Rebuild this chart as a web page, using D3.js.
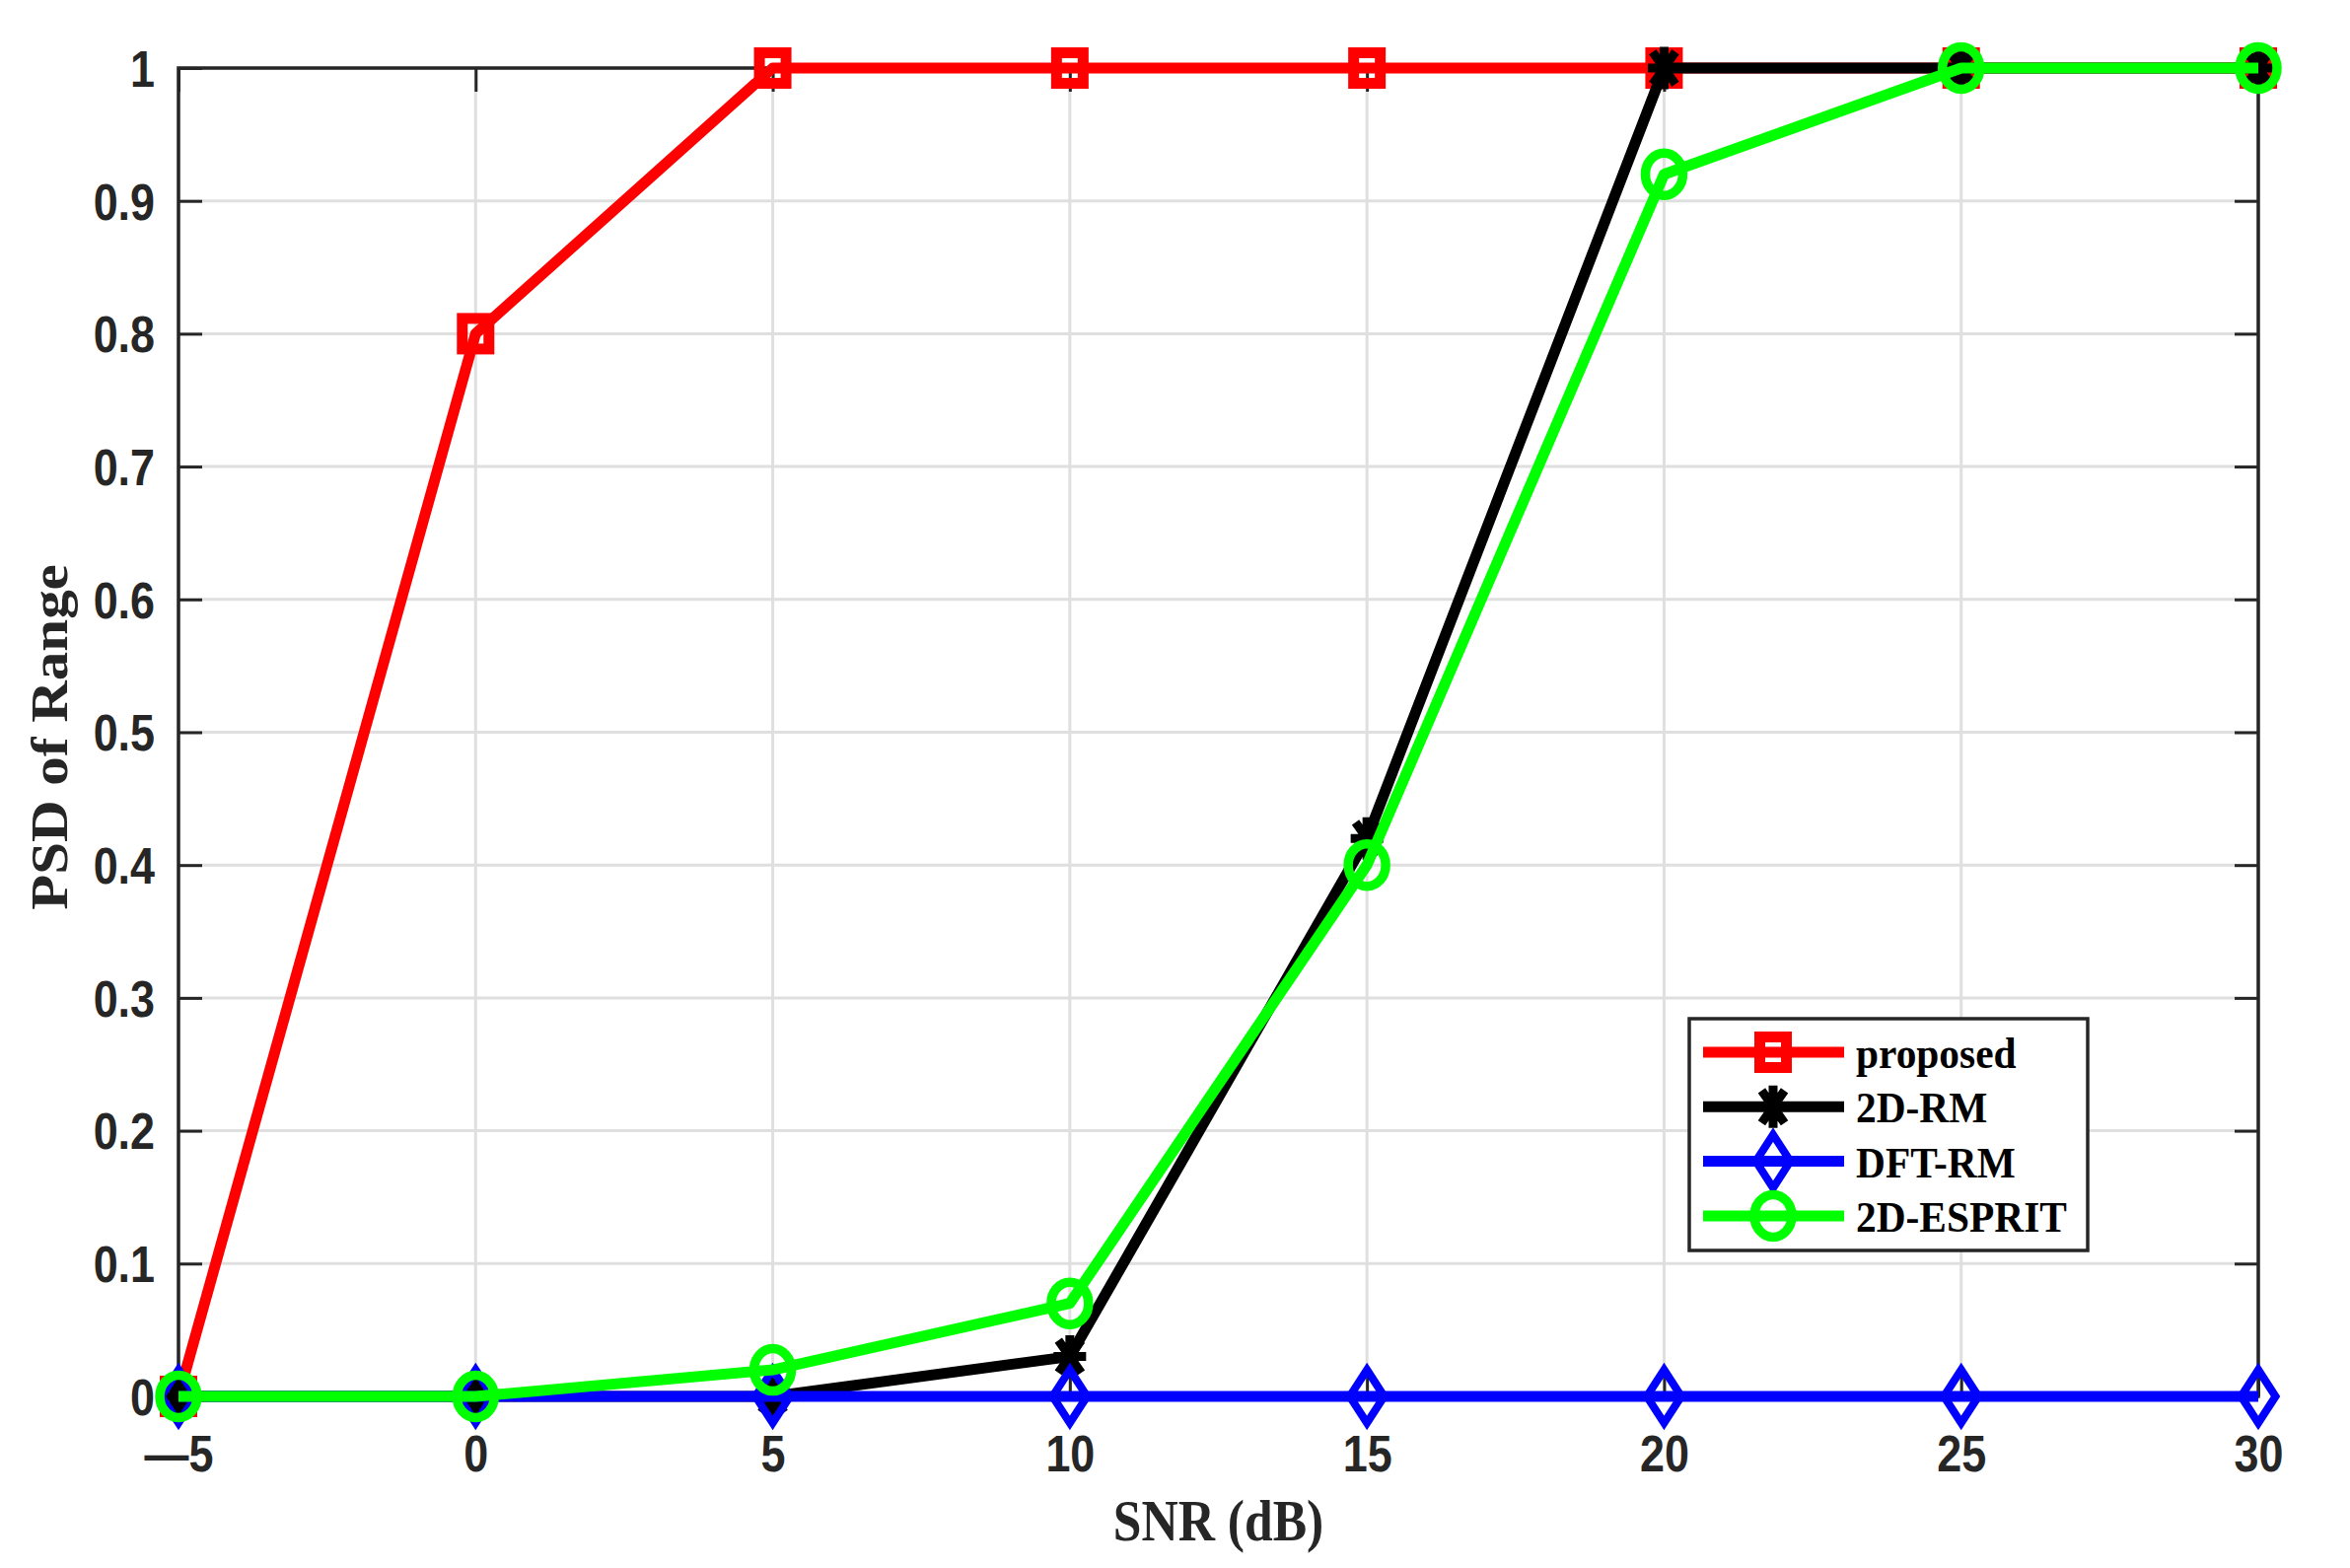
<!DOCTYPE html>
<html lang="en">
<head>
<meta charset="utf-8">
<script src="https://d3js.org/d3.v7.min.js"></script>
<style type="text/css">
body { margin: 0; background: #fff; }
.tick text { font-family: "Liberation Sans", Arial, sans-serif; font-weight: bold; fill: #262626; }
</style>
</head>
<body>
<script type="text/javascript">

// data
var snr = [-5, 0, 5, 10, 15, 20, 25, 30];
var proposed = [0, 0.8, 1, 1, 1, 1, 1, 1];
var rm2d = [0, 0, 0, 0.03, 0.42, 1, 1, 1];
var dftrm = [0, 0, 0, 0, 0, 0, 0, 0];
var esprit = [0, 0, 0.02, 0.07, 0.40, 0.92, 1, 1];
var seriesNames = ["proposed", "2D-RM", "DFT-RM", "2D-ESPRIT"];
var xTicks = [-5, 0, 5, 10, 15, 20, 25, 30];
var yTicks = [0, 0.1, 0.2, 0.3, 0.4, 0.5, 0.6, 0.7, 0.8, 0.9, 1];

var width = 2383, height = 1590;
// note: "top" is window.top, so use other names
var plotLeft = 181, plotRight = 2290, plotTop = 69, plotBottom = 1416;
var sx = 0.88; // the figure is squeezed a bit horizontally

var series = [
  {name: seriesNames[0], values: proposed, color: "#ff0000", marker: "square"},
  {name: seriesNames[1], values: rm2d, color: "#000000", marker: "star"},
  {name: seriesNames[2], values: dftrm, color: "#0000ff", marker: "diamond"},
  {name: seriesNames[3], values: esprit, color: "#00ff00", marker: "circle"}
];

var x = d3.scaleLinear().domain([-5, 30]).range([plotLeft, plotRight]);
var y = d3.scaleLinear().domain([0, 1]).range([plotBottom, plotTop]);

var svg = d3.select("body").append("svg")
  .attr("width", width)
  .attr("height", height);

svg.append("rect").attr("width", width).attr("height", height).attr("fill", "#fff");

// grid
var grid = svg.append("g");
grid.selectAll(".gx").data(xTicks).enter().append("line")
  .attr("x1", d => x(d)).attr("x2", d => x(d))
  .attr("y1", plotTop).attr("y2", plotBottom)
  .attr("stroke", "#dfdfdf").attr("stroke-width", 3);
grid.selectAll(".gy").data(yTicks).enter().append("line")
  .attr("y1", d => y(d)).attr("y2", d => y(d))
  .attr("x1", plotLeft).attr("x2", plotRight)
  .attr("stroke", "#dfdfdf").attr("stroke-width", 3);

// axes, ticks pointing inward
function styleAxis(g) {
  g.select(".domain").remove();
  g.selectAll(".tick line").attr("stroke", "#262626").attr("stroke-width", 3);
}

var xAxis = svg.append("g")
  .attr("transform", "translate(0," + plotBottom + ")")
  .call(d3.axisBottom(x).tickValues(xTicks).tickSize(-24).tickPadding(0)
    .tickFormat(d => d < 0 ? "\u2014" + Math.abs(d) : d));
styleAxis(xAxis);
xAxis.selectAll(".tick text")
  .attr("y", 76).attr("dy", null)
  .style("font-size", "51px")
  .attr("transform", "scale(" + sx + ",1)");

var yAxis = svg.append("g")
  .attr("transform", "translate(" + plotLeft + ",0)")
  .call(d3.axisLeft(y).tickValues(yTicks).tickSize(-24).tickPadding(0)
    .tickFormat(d => d3.format("")(d)));
styleAxis(yAxis);
yAxis.selectAll(".tick text")
  .attr("x", -24 / sx).attr("dy", "0.36em")
  .style("font-size", "51px")
  .attr("transform", "scale(" + sx + ",1)");

var topAxis = svg.append("g")
  .attr("transform", "translate(0," + plotTop + ")")
  .call(d3.axisTop(x).tickValues(xTicks).tickSize(-24).tickFormat(""));
styleAxis(topAxis);

var rightAxis = svg.append("g")
  .attr("transform", "translate(" + plotRight + ",0)")
  .call(d3.axisRight(y).tickValues(yTicks).tickSize(-24).tickFormat(""));
styleAxis(rightAxis);

svg.append("rect")
  .attr("x", plotLeft).attr("y", plotTop)
  .attr("width", plotRight - plotLeft).attr("height", plotBottom - plotTop)
  .attr("fill", "none").attr("stroke", "#262626").attr("stroke-width", 3.5);

// markers
function drawMarker(g, type, color, cx, cy) {
  if (type == "square") {
    g.append("rect").attr("x", cx - 13.5).attr("y", cy - 15.5)
      .attr("width", 27).attr("height", 31)
      .attr("fill", "none").attr("stroke", color).attr("stroke-width", 11);
  } else if (type == "diamond") {
    g.append("path")
      .attr("d", "M" + cx + "," + (cy - 27) + "L" + (cx + 17.5) + "," + cy +
        "L" + cx + "," + (cy + 27) + "L" + (cx - 17.5) + "," + cy + "Z")
      .attr("fill", "none").attr("stroke", color).attr("stroke-width", 8);
  } else if (type == "circle") {
    g.append("ellipse").attr("cx", cx).attr("cy", cy).attr("rx", 19).attr("ry", 21.5)
      .attr("fill", "none").attr("stroke", color).attr("stroke-width", 9.5);
  } else if (type == "star") {
    var rx = 12, ry = 17;
    var d = "M" + cx + "," + (cy - ry) + "L" + cx + "," + (cy + ry) +
      "M" + (cx - rx) + "," + cy + "L" + (cx + rx) + "," + cy +
      "M" + (cx - rx * 0.75) + "," + (cy - ry * 0.75) + "L" + (cx + rx * 0.75) + "," + (cy + ry * 0.75) +
      "M" + (cx - rx * 0.75) + "," + (cy + ry * 0.75) + "L" + (cx + rx * 0.75) + "," + (cy - ry * 0.75);
    g.append("path").attr("d", d).attr("fill", "none")
      .attr("stroke", color).attr("stroke-width", 9)
      .attr("stroke-linecap", "square");
  }
}

var line = d3.line()
  .x(function(d, i) { return x(snr[i]); })
  .y(function(d) { return y(d); });

series.forEach(function(s) {
  var g = svg.append("g");
  g.append("path")
    .attr("d", line(s.values))
    .attr("fill", "none")
    .attr("stroke", s.color)
    .attr("stroke-width", 11)
    .attr("stroke-linejoin", "round");
  s.values.forEach(function(v, i) {
    drawMarker(g, s.marker, s.color, x(snr[i]), y(v));
  });
});

// axis titles
svg.append("text")
  .attr("transform", "translate(" + ((plotLeft + plotRight) / 2) + ",1562) scale(0.86,1)")
  .attr("text-anchor", "middle")
  .style("font-family", "'Liberation Serif', 'Times New Roman', serif")
  .style("font-weight", "bold")
  .style("font-size", "60px")
  .style("fill", "#262626")
  .text("SNR (dB)");

svg.append("text")
  .attr("transform", "translate(68," + ((plotTop + plotBottom) / 2 + 5) + ") scale(0.9,1) rotate(-90)")
  .attr("text-anchor", "middle")
  .style("font-family", "'Liberation Serif', 'Times New Roman', serif")
  .style("font-weight", "bold")
  .style("font-size", "59px")
  .style("fill", "#262626")
  .text("PSD of Range");

// legend
var legend = svg.append("g");
legend.append("rect")
  .attr("x", 1713).attr("y", 1033)
  .attr("width", 404).attr("height", 235)
  .attr("fill", "#fff").attr("stroke", "#262626").attr("stroke-width", 3.5);

var item = legend.selectAll(".item")
  .data(series)
  .enter().append("g")
  .attr("transform", function(d, i) { return "translate(0," + (1067 + i * 55.3) + ")"; });

item.append("line")
  .attr("x1", 1727).attr("x2", 1870)
  .attr("y1", 0).attr("y2", 0)
  .attr("stroke", d => d.color).attr("stroke-width", 11);

item.each(function(d) {
  drawMarker(d3.select(this), d.marker, d.color, 1798, 0);
});

item.append("text")
  .attr("transform", "translate(1882,16) scale(0.92,1)")
  .style("font-family", "'Liberation Serif', 'Times New Roman', serif")
  .style("font-weight", "bold")
  .style("font-size", "45px")
  .style("fill", "#000")
  .text(d => d.name);

</script>
</body>
</html>
